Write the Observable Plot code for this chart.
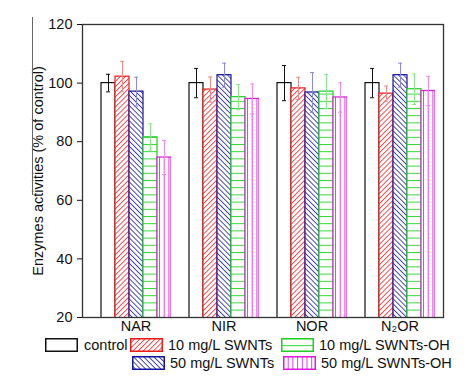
<!DOCTYPE html>
<html><head><meta charset="utf-8">
<script src="https://cdn.jsdelivr.net/npm/d3@7"></script>
<script src="https://cdn.jsdelivr.net/npm/@observablehq/plot@0.6"></script>
<style>
body{margin:0;background:#fff;font-family:"Liberation Sans",Arial,sans-serif;}
#wrap{position:relative;width:475px;height:385px;overflow:hidden;}
.lg{position:absolute;display:flex;align-items:center;font-size:14.5px;color:#111;white-space:nowrap;height:16px;}
.lg svg{display:block;}
.lg span{display:block;}
#artifact{position:absolute;left:32px;top:17px;width:1px;height:178px;background:#666;}
</style></head><body>
<svg width="0" height="0" style="position:absolute;left:0;top:0">
<defs>
  <pattern id="p0" patternUnits="userSpaceOnUse" width="4" height="4">
    <rect width="4" height="4" fill="#fff"/>
  </pattern>
  <pattern id="p1" patternUnits="userSpaceOnUse" width="3.6" height="10" patternTransform="rotate(45)">
    <rect width="3.6" height="10" fill="#fff"/>
    <line x1="0.5" y1="0" x2="0.5" y2="10" stroke="#f23232" stroke-width="0.9"/>
  </pattern>
  <pattern id="p2" patternUnits="userSpaceOnUse" width="3.6" height="10" patternTransform="rotate(-45)">
    <rect width="3.6" height="10" fill="#fff"/>
    <line x1="0.5" y1="0" x2="0.5" y2="10" stroke="#2a2aa8" stroke-width="0.9"/>
  </pattern>
  <pattern id="p3" patternUnits="userSpaceOnUse" width="10" height="7.2">
    <rect width="10" height="7.2" fill="#fff"/>
    <line x1="0" y1="0.5" x2="10" y2="0.5" stroke="#33d633" stroke-width="1"/>
  </pattern>
  <pattern id="p4" patternUnits="userSpaceOnUse" width="4.7" height="10">
    <rect width="4.7" height="10" fill="#fff"/>
    <line x1="0.5" y1="0" x2="0.5" y2="10" stroke="#e63ce6" stroke-width="1"/>
  </pattern>
</defs></svg>
<div id="wrap"><div id="artifact"></div></div>
<script>
const enzymes = ["NAR", "NIR", "NOR", "N₂OR"];
const series = ["control", "10 mg/L SWNTs", "50 mg/L SWNTs", "10 mg/L SWNTs-OH", "50 mg/L SWNTs-OH"];
const controlVals = [100, 100, 100, 100];
const controlErr  = [3, 5, 6, 5];
const swnt10Vals  = [102.2, 97.8, 98.2, 96.4];
const swnt10Err   = [5.2, 4.3, 3.8, 2.6];
const swnt50Vals  = [97.1, 102.7, 96.8, 102.7];
const swnt50Err   = [4.9, 4.1, 6.8, 4.1];
const oh10Vals    = [81.5, 95.2, 97.1, 97.9];
const oh10Err     = [4.6, 4.3, 5.8, 5.2];
const oh50Vals    = [74.6, 94.6, 95.1, 97.3];
const oh50Err     = [5.8, 5.1, 5.0, 5.0];
const yTicks = [20, 40, 60, 80, 100, 120];

const valuesBySeries = [controlVals, swnt10Vals, swnt50Vals, oh10Vals, oh50Vals];
const errBySeries = [controlErr, swnt10Err, swnt50Err, oh10Err, oh50Err];
const fills = ["url(#p0)", "url(#p1)", "url(#p2)", "url(#p3)", "url(#p4)"];
const strokes = ["#111", "#ee1a1a", "#1414a0", "#22cc22", "#dd1add"];
const errColors = ["#111", "#f08a8a", "#8a8ae0", "#8ae68a", "#f08af0"];

const data = [];
enzymes.forEach((e, i) => series.forEach((s, j) => data.push({
  enzyme: e, series: s, si: j, value: valuesBySeries[j][i], err: errBySeries[j][i]
})));

const W = 475, marginLeft = 82, marginRight = 32;
const fxOpts = {domain: enzymes, paddingInner: 0.19, paddingOuter: 0.14, align: 0.7, round: true, label: null};
// the facets do not reach the plot edges; axis and frame are moved out to the plot edges
const fxScale = Plot.scale({fx: {...fxOpts, range: [marginLeft, W - marginRight]}});
const leftGap = fxScale.apply(enzymes[0]) - marginLeft;
const rightGap = (W - marginRight) - (fxScale.apply(enzymes[enzymes.length - 1]) + fxScale.bandwidth);

const marks = [];
series.forEach((s, j) => {
  const d = data.filter(r => r.si === j);
  marks.push(Plot.barY(d, {fx: "enzyme", x: "series", y: "value", fill: fills[j], stroke: strokes[j], strokeWidth: 1.2, clip: true}));
});
series.forEach((s, j) => {
  const d = data.filter(r => r.si === j);
  marks.push(Plot.ruleX(d, {fx: "enzyme", x: "series", y1: r => r.value - r.err, y2: r => r.value + r.err, stroke: errColors[j], strokeWidth: 1}));
  marks.push(Plot.tickY(d, {fx: "enzyme", x: "series", y: r => r.value + r.err, stroke: errColors[j], strokeWidth: 1, insetLeft: 5, insetRight: 5}));
  marks.push(Plot.tickY(d, {fx: "enzyme", x: "series", y: r => r.value - r.err, stroke: errColors[j], strokeWidth: 1, insetLeft: 5, insetRight: 5}));
});
marks.push(Plot.frame({facet: "super", stroke: "#333", strokeWidth: 1.3, insetLeft: -leftGap, insetRight: -rightGap}));
marks.push(Plot.axisY({ticks: yTicks, tickSize: 5, tickPadding: 5, fontSize: 14.5, dx: -leftGap, label: "Enzymes activities (% of control)", labelAnchor: "center", labelArrow: "none", labelOffset: 68}));
marks.push(Plot.axisFx({anchor: "bottom", tickSize: 0, tickPadding: 3, fontSize: 14.5, label: null}));

const chart = Plot.plot({
  width: W, height: 337,
  marginTop: 24, marginBottom: 20, marginLeft, marginRight,
  style: {fontFamily: '"Liberation Sans", Arial, sans-serif', fontSize: "14.5px", color: "#111", background: "white", overflow: "visible"},
  fx: fxOpts,
  x: {domain: series, padding: 0, axis: null},
  y: {domain: [20, 120], axis: null},
  marks
});
const wrap = document.getElementById("wrap");
wrap.appendChild(chart);

// legend
const legendPos = [
  {i: 0, left: 45, top: 337},
  {i: 1, left: 130, top: 337},
  {i: 3, left: 281, top: 337},
  {i: 2, left: 132, top: 355},
  {i: 4, left: 283, top: 355}
];
legendPos.forEach(p => {
  const div = document.createElement("div");
  div.className = "lg";
  div.style.left = p.left + "px";
  div.style.top = p.top + "px";
  div.innerHTML = `<svg width="33" height="14"><rect x="0.75" y="0.75" width="31.5" height="12.5" fill="${fills[p.i]}" stroke="${strokes[p.i]}" stroke-width="1.5"/></svg><span style="margin-left:${p.i === 0 ? 6 : 5}px">${series[p.i]}</span>`;
  wrap.appendChild(div);
});
</script>
</body></html>
